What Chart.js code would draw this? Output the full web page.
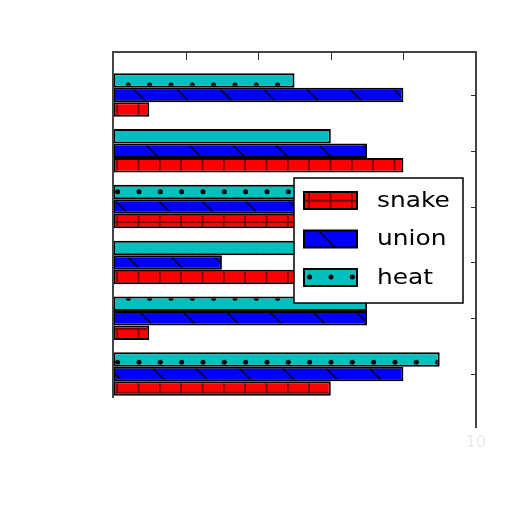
<!DOCTYPE html>
<html>
<head>
<meta charset="utf-8">
<script src="https://cdn.jsdelivr.net/npm/chart.js@4"></script>
<style>
  body { margin: 0; background: #fff; }
  #wrap { width: 512px; height: 512px; }
</style>
</head>
<body>
<div id="wrap"><canvas id="chart" width="512" height="512"></canvas></div>
<script>
// group positions on the (hidden) y axis, top to bottom
const positions = [0, 1, 2, 3, 4, 5]
const snake = [1, 8, 7, 6, 1, 6]
const union = [8, 7, 6, 3, 7, 8]
const heat = [5, 6, 8, 6, 7, 9]
const xTicks = [0, 2, 4, 6, 8, 10]

// hatch tiles, anchored to the canvas origin
function gridPattern(ctx) {
    const c = document.createElement('canvas')
    c.width = 64; c.height = 64
    const g = c.getContext('2d')
    g.fillStyle = '#ff0000'
    g.fillRect(0, 0, 64, 64)
    g.strokeStyle = '#700'
    g.lineWidth = 1.8
    for (let i = 0; i < 3; i++) {
        let x = 10.5 + i * 21.33
        let y = 8.75 + i * 21.33
        g.beginPath(); g.moveTo(x, 0); g.lineTo(x, 64); g.stroke()
        g.beginPath(); g.moveTo(0, y); g.lineTo(64, y); g.stroke()
    }
    return ctx.createPattern(c, 'repeat')
}

function diagPattern(ctx) {
    const c = document.createElement('canvas')
    c.width = 130; c.height = 130
    const g = c.getContext('2d')
    g.fillStyle = '#0000ff'
    g.fillRect(0, 0, 130, 130)
    g.strokeStyle = '#000022'
    g.lineWidth = 1.6
    for (let k = -5; k <= 5; k++) {
        let c0 = 1 + k * 43.33
        g.beginPath(); g.moveTo(c0 - 20, -20); g.lineTo(c0 + 150, 150); g.stroke()
    }
    return ctx.createPattern(c, 'repeat')
}

function dotPattern(ctx) {
    const c = document.createElement('canvas')
    c.width = 64; c.height = 128
    const g = c.getContext('2d')
    g.fillStyle = '#00bfbf'
    g.fillRect(0, 0, 64, 128)
    g.fillStyle = '#000'
    for (let r = 0; r < 6; r++) {
        let y = 21 + r * 21.33
        let off = (r % 2 == 1) ? 0.3 : 10.97
        for (let i = -1; i <= 3; i++) {
            let x = off + i * 21.33
            for (let dy of [-128, 0, 128]) {
                g.beginPath(); g.arc(x, y + dy, 2.5, 0, Math.PI * 2); g.fill()
            }
        }
    }
    return ctx.createPattern(c, 'repeat')
}

const ctx = document.getElementById('chart').getContext('2d')
const snakeFill = gridPattern(ctx)
const unionFill = diagPattern(ctx)
const heatFill = dotPattern(ctx)

function pts(vals) {
    return vals.map((v, i) => ({x: v, y: positions[i]}))
}

const legendItems = [['snake', snakeFill], ['union', unionFill], ['heat', heatFill]]

const framePlugin = {
    id: 'frame',
    afterDraw(chart) {
        const a = chart.chartArea
        const c = chart.ctx
        const xs = chart.scales.x
        const ys = chart.scales.y
        c.save()
        c.strokeStyle = '#444'
        c.lineWidth = 2
        c.beginPath()
        c.moveTo(a.left, a.bottom); c.lineTo(a.left, a.top); c.lineTo(a.right, a.top); c.lineTo(a.right, a.bottom + 30)
        c.stroke()
        c.lineWidth = 1
        c.strokeStyle = '#333'
        xTicks.slice(1, -1).forEach(t => {
            let px = Math.round(xs.getPixelForValue(t)) + 0.5
            c.beginPath(); c.moveTo(px, a.top); c.lineTo(px, a.top + 8); c.stroke()
        })
        positions.forEach(p => {
            let py = Math.round(ys.getPixelForValue(p)) + 0.5
            c.beginPath(); c.moveTo(a.right, py); c.lineTo(a.right - 5, py); c.stroke()
        })
        // faint leftover tick label at the bottom
        c.fillStyle = '#ebebeb'
        c.font = '16px "DejaVu Sans"'
        c.textAlign = 'center'
        c.textBaseline = 'middle'
        c.fillText(String(xTicks[xTicks.length - 1]), xs.getPixelForValue(xTicks[xTicks.length - 1]), a.bottom + 45)

        // legend box
        const lx = 294, ly = 178, lw = 169, lh = 125
        c.fillStyle = '#fff'
        c.fillRect(lx, ly, lw, lh)
        c.strokeStyle = '#000'
        c.lineWidth = 1.5
        c.strokeRect(lx, ly, lw, lh)
        legendItems.forEach((item, i) => {
            let sy = 192 + i * 38.5
            c.fillStyle = item[1]
            c.fillRect(lx + 10, sy, 53, 17)
            c.strokeStyle = '#000'
            c.lineWidth = 2
            c.strokeRect(lx + 10, sy, 53, 17)
            c.save()
            c.translate(lx + 83, sy + 9)
            c.scale(1.13, 1)
            c.fillStyle = '#000'
            c.font = '22px "DejaVu Sans"'
            c.textAlign = 'left'
            c.textBaseline = 'middle'
            c.fillText(item[0], 0, 0)
            c.restore()
        })
        c.restore()
    }
}

new Chart(ctx, {
    type: 'bar',
    data: {
        datasets: [
            {label: 'heat', data: pts(heat), backgroundColor: heatFill, borderColor: '#000', borderWidth: 2, borderSkipped: false},
            {label: 'union', data: pts(union), backgroundColor: unionFill, borderColor: '#000', borderWidth: 2, borderSkipped: false},
            {label: 'snake', data: pts(snake), backgroundColor: snakeFill, borderColor: '#000', borderWidth: 2, borderSkipped: false}
        ]
    },
    options: {
        indexAxis: 'y',
        responsive: false,
        devicePixelRatio: 1,
        animation: false,
        layout: { padding: { left: 113, top: 52, right: 36, bottom: 114 } },
        categoryPercentage: 0.78,
        barPercentage: 1.0,
        plugins: { legend: { display: false }, tooltip: { enabled: false } },
        scales: {
            x: { type: 'linear', min: 0, max: 10, display: false },
            y: {
                type: 'linear', min: -0.77, max: 5.43, reverse: true, offset: false, display: false,
                afterBuildTicks: (s) => { s.ticks = positions.map(p => ({value: p})) }
            }
        }
    },
    plugins: [framePlugin]
})
</script>
</body>
</html>
